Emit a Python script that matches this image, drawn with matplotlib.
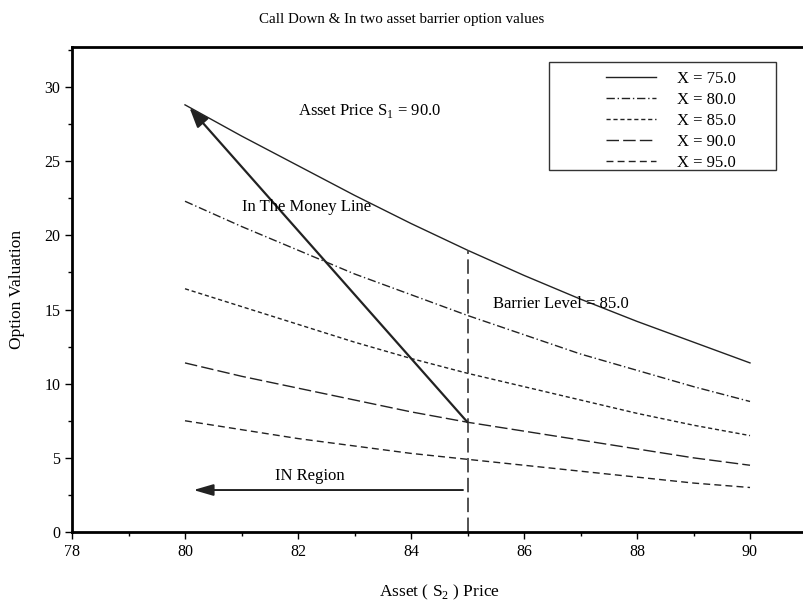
import numpy as np
import matplotlib.pyplot as plt
from matplotlib.ticker import MultipleLocator
from matplotlib.patches import Rectangle

plt.rcParams['font.family'] = ['Liberation Serif', 'DejaVu Serif']
plt.rcParams['mathtext.fontset'] = 'custom'
plt.rcParams['mathtext.rm'] = 'Liberation Serif'

# Asset S2 price
s2 = [80, 81, 82, 83, 84, 85, 86, 87, 88, 89, 90]

# option values for each strike
strikes = ["X = 75.0", "X = 80.0", "X = 85.0", "X = 90.0", "X = 95.0"]
val_75 = [28.8, 26.7, 24.7, 22.7, 20.8, 19.0, 17.3, 15.7, 14.2, 12.8, 11.4]
val_80 = [22.3, 20.6, 19.0, 17.4, 16.0, 14.6, 13.3, 12.0, 10.9, 9.8, 8.8]
val_85 = [16.4, 15.2, 14.0, 12.8, 11.7, 10.7, 9.8, 8.9, 8.0, 7.2, 6.5]
val_90 = [11.4, 10.5, 9.7, 8.9, 8.1, 7.4, 6.8, 6.2, 5.6, 5.0, 4.5]
val_95 = [7.5, 6.9, 6.3, 5.8, 5.3, 4.9, 4.5, 4.1, 3.7, 3.3, 3.0]

barrier = 85.0

W, H = 804, 605
fig = plt.figure(figsize=(W / 100, H / 100), dpi=100)
ax_l, ax_r, ax_t, ax_b = 72, 806.5, 47, 532
ax = fig.add_axes([ax_l / W, (H - ax_b) / H, (ax_r - ax_l) / W, (ax_b - ax_t) / H])

def px2ax(x, y):
    # figure pixel (top-down) -> axes fraction
    return (x - ax_l) / (ax_r - ax_l), (ax_b - y) / (ax_b - ax_t)

styles = ['-', (0, (6, 2, 1, 2)), (0, (3, 2)), (0, (9, 3)), (0, (5, 3))]
series = [val_75, val_80, val_85, val_90, val_95]
for vals, ls, lab in zip(series, styles, strikes):
    ax.plot(s2, vals, color='#222222', lw=1.0, linestyle=ls, label=lab)

# barrier line
ax.plot([barrier, barrier], [0, val_75[s2.index(85)]], color='#444444',
        lw=1.3, linestyle=(0, (8, 3)))

# in the money arrow
ax.annotate('', xy=(80.08, 28.6), xytext=(85, val_90[s2.index(85)]),
            arrowprops=dict(arrowstyle='-|>,head_length=1.2,head_width=0.45',
                            color='#222222', lw=1.6, shrinkA=0, shrinkB=0))
# in region arrow
ax.annotate('', xy=(80.15, 2.83), xytext=(84.92, 2.83),
            arrowprops=dict(arrowstyle='-|>,head_length=1.2,head_width=0.35',
                            color='#222222', lw=1.4, shrinkA=0, shrinkB=0))

ax.text(82.0, 28.4, r'Asset Price S$_1$ = 90.0', fontsize=12, va='center')
ax.text(81.0, 21.9, 'In The Money Line', fontsize=12, va='center')
ax.text(85.45, 15.4, 'Barrier Level = 85.0', fontsize=12, va='center')
ax.text(81.6, 3.8, 'IN Region', fontsize=12, va='center')

ax.set_xlim(78, 91)
ax.set_ylim(0, 32.7)
ax.xaxis.set_major_locator(MultipleLocator(2))
ax.xaxis.set_minor_locator(MultipleLocator(1))
ax.yaxis.set_major_locator(MultipleLocator(5))
ax.yaxis.set_minor_locator(MultipleLocator(2.5))
ax.tick_params(which='major', direction='out', length=5, width=1, labelsize=11.5)
ax.tick_params(which='minor', direction='out', length=3, width=1)
for side in ['left', 'bottom', 'top']:
    ax.spines[side].set_linewidth(2)
ax.spines['right'].set_visible(False)

ax.set_xlabel(r'Asset ( S$_2$ ) Price', fontsize=12.5, labelpad=16.5)
ax.set_ylabel('Option Valuation', fontsize=12.5, labelpad=14)
fig.suptitle('Call Down & In two asset barrier option values', fontsize=10.8, y=0.978)

# legend box
x0, y0 = px2ax(549, 170)
x1, y1 = px2ax(776, 62)
ax.add_patch(Rectangle((x0, y0), x1 - x0, y1 - y0, transform=ax.transAxes,
                       fill=False, edgecolor='#333333', lw=1.0, zorder=5))
leg = ax.legend(loc='upper left', bbox_to_anchor=px2ax(606, 71),
                fontsize=12, frameon=False, handlelength=3.0, handletextpad=1.25,
                borderpad=0, labelspacing=0.3, borderaxespad=0)

fig.savefig('out.png', dpi=100)
